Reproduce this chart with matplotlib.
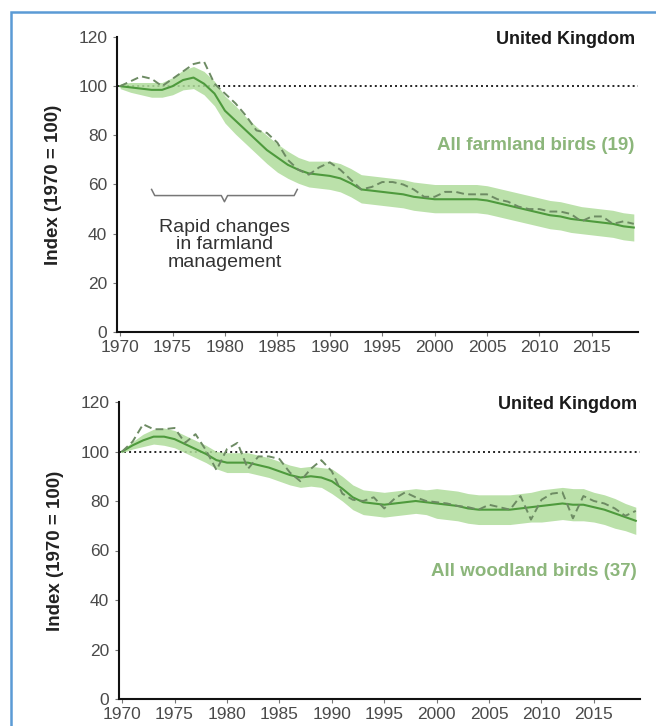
import matplotlib
matplotlib.use('Agg')
import matplotlib.pyplot as plt
from matplotlib.patches import Rectangle

plt.rcParams['font.family'] = ['Liberation Sans', 'DejaVu Sans']

years = list(range(1970, 2020))

# farmland birds (19 species)
farm_smooth = [100, 99.5, 99, 98.5, 98.5, 100, 102.5, 103.5, 101, 97,
               90, 86, 82, 78, 74, 71, 68, 66, 64.5, 64,
               63.5, 62.5, 60.5, 58, 57.5, 57, 56.5, 56, 55, 54.5,
               54, 54, 54, 54, 54, 53.5, 52.5, 51.5, 50.5, 49.5,
               48.5, 47.5, 47, 46, 45.5, 45, 44.5, 44, 43, 42.5]
farm_raw = [100, 102, 104, 103, 100, 103, 106, 109, 110, 101,
            97, 93, 88, 82, 81, 77, 70, 66, 64, 67,
            69, 66, 62, 58, 59, 61, 61, 60, 58, 55,
            55, 57, 57, 56, 56, 56, 54, 53, 51, 50,
            50, 49, 49, 48, 45, 47, 47, 44, 45, 44]
farm_upper = [101, 101.5, 101.5, 101.5, 101.5, 103.5, 106.5, 108, 106, 102,
              96, 92, 87.5, 83.5, 80, 76.5, 73.5, 71, 69.5, 69.5,
              69.5, 68.5, 66.5, 64, 63.5, 63, 62.5, 62, 61, 60.5,
              60, 60, 60, 60, 60, 59.5, 58.5, 57.5, 56.5, 55.5,
              54.5, 53.5, 53, 52, 51, 50.5, 50, 49.5, 48.5, 48]
farm_lower = [99, 97.5, 96.5, 95.5, 95.5, 96.5, 98.5, 99, 96.5, 92,
              85, 80.5, 76.5, 72.5, 68.5, 65, 62.5, 60.5, 59, 58.5,
              58, 57, 55, 52.5, 52, 51.5, 51, 50.5, 49.5, 49,
              48.5, 48.5, 48.5, 48.5, 48.5, 48, 47, 46, 45, 44,
              43, 42, 41.5, 40.5, 40, 39.5, 39, 38.5, 37.5, 37]

# woodland birds (37 species)
wood_smooth = [100, 102.5, 104.5, 106, 106, 105, 103, 101, 99, 96.5,
               95.5, 95.5, 95.5, 94.5, 93.5, 92, 90.5, 89.5, 90, 89.5,
               88, 85, 81.5, 79.5, 79, 78.5, 79, 79.5, 80, 79.5,
               79, 78.5, 78, 77, 76.5, 76.5, 76.5, 76.5, 77, 77.5,
               78, 78.5, 79, 78.5, 78.5, 77.5, 76.5, 75, 73.5, 72]
wood_raw = [100, 104, 111, 109, 109, 109.5, 103.5, 107, 100.5, 92.5,
            101, 103.5, 93, 98, 98, 97, 91.5, 88, 93, 96.5,
            92, 83, 80.5, 80, 81.5, 77, 81, 83.5, 81.5, 80,
            79.5, 79, 78, 77.5, 76.5, 78.5, 77.5, 76.5, 82, 72.5,
            80.5, 83, 83.5, 73, 82, 80, 79, 77, 74, 76]
wood_upper = [100.5, 104, 107, 109, 109.5, 108.5, 106.5, 104.5, 102.5, 100,
              99.5, 99.5, 99.5, 98.5, 97.5, 96, 94.5, 93.5, 94, 93.5,
              93, 90, 86.5, 84.5, 84, 83.5, 84, 84.5, 85, 84.5,
              85, 84.5, 84, 83, 82.5, 82.5, 82.5, 82.5, 83, 83.5,
              84.5, 85, 85.5, 85, 85, 83.5, 82.5, 81, 79, 77.5]
wood_lower = [99.5, 101, 102, 103, 102.5, 101.5, 99.5, 97.5, 95.5, 93,
              91.5, 91.5, 91.5, 90.5, 89.5, 88, 86.5, 85.5, 86, 85.5,
              83, 80, 76.5, 74.5, 74, 73.5, 74, 74.5, 75, 74.5,
              73, 72.5, 72, 71, 70.5, 70.5, 70.5, 70.5, 71, 71.5,
              71.5, 72, 72.5, 72, 72, 71.5, 70.5, 69, 68, 66.5]

xticks = [1970, 1975, 1980, 1985, 1990, 1995, 2000, 2005, 2010, 2015]
yticks = [0, 20, 40, 60, 80, 100, 120]

band_col = '#afdc9b'
line_col = '#4e9a3d'
dash_col = '#6d8b63'
label_green = '#8cb67b'

fig = plt.figure(figsize=(6.56, 7.26), dpi=100)
fig.patch.set_facecolor('white')

W, H = 656.0, 726.0
ax1 = fig.add_axes([117 / W, 1 - 332 / H, 521 / W, 295 / H])
ax2 = fig.add_axes([119 / W, 1 - 699 / H, 521 / W, 297 / H])


def style(ax):
    ax.set_xlim(1969.7, 2019.4)
    ax.set_ylim(0, 120)
    for s in ['top', 'right']:
        ax.spines[s].set_visible(False)
    for s in ['left', 'bottom']:
        ax.spines[s].set_linewidth(1.5)
        ax.spines[s].set_color('#111111')
    ax.set_xticks(xticks)
    ax.set_yticks(yticks)
    ax.tick_params(axis='both', length=3, width=0.8, color='#777777',
                   labelcolor='#4a4a4a', labelsize=12.5)
    ax.tick_params(axis='y', pad=4)
    ax.tick_params(axis='x', pad=3)
    ax.set_ylabel('Index (1970 = 100)', fontsize=13.5, fontweight='bold', color='#222222')
    ax.yaxis.set_label_coords(-0.105, 0.5)
    ax.axhline(100, color='#222222', linestyle=(0, (1, 1.6)), linewidth=1.4, zorder=1)


style(ax1)
ax1.fill_between(years, farm_lower, farm_upper, color=band_col, alpha=0.85, linewidth=0, zorder=2)
ax1.plot(years, farm_smooth, color=line_col, linewidth=1.5, zorder=3)
ax1.plot(years, farm_raw, color=dash_col, linewidth=1.4, dashes=(4, 2.2), zorder=4)
ax1.text(2019.1, 119, 'United Kingdom', ha='right', va='center', fontsize=13,
         fontweight='bold', color='#1a1a1a')
ax1.text(2019.1, 76, 'All farmland birds (19)', ha='right', va='center', fontsize=13.5,
         fontweight='bold', color=label_green)

# brace over the period of rapid change
b0, b1, by = 1973.0, 1986.9, 55.5
bm = (b0 + b1) / 2
ax1.plot([b0, b0 + 0.3, bm - 0.3, bm, bm + 0.3, b1 - 0.3, b1],
         [by + 2.5, by, by, by - 2.5, by, by, by + 2.5],
         color='#777777', linewidth=1.1, zorder=3)
ax1.text(bm, 35.5, 'Rapid changes\nin farmland\nmanagement', ha='center', va='center',
         fontsize=14, color='#333333', linespacing=1.05)

style(ax2)
ax2.fill_between(years, wood_lower, wood_upper, color=band_col, alpha=0.85, linewidth=0, zorder=2)
ax2.plot(years, wood_smooth, color=line_col, linewidth=1.5, zorder=3)
ax2.plot(years, wood_raw, color=dash_col, linewidth=1.4, dashes=(4, 2.2), zorder=4)
ax2.text(2019.1, 119, 'United Kingdom', ha='right', va='center', fontsize=13,
         fontweight='bold', color='#1a1a1a')
ax2.text(2019.1, 51.5, 'All woodland birds (37)', ha='right', va='center', fontsize=13.5,
         fontweight='bold', color=label_green)

# light blue frame
fig.patches.append(Rectangle((11 / W, -0.05), 1.2, 1 - 12 / H + 0.05, transform=fig.transFigure,
                             fill=False, edgecolor='#5b9bd5', linewidth=1.8, clip_on=False))

fig.savefig('out.png', dpi=100)
